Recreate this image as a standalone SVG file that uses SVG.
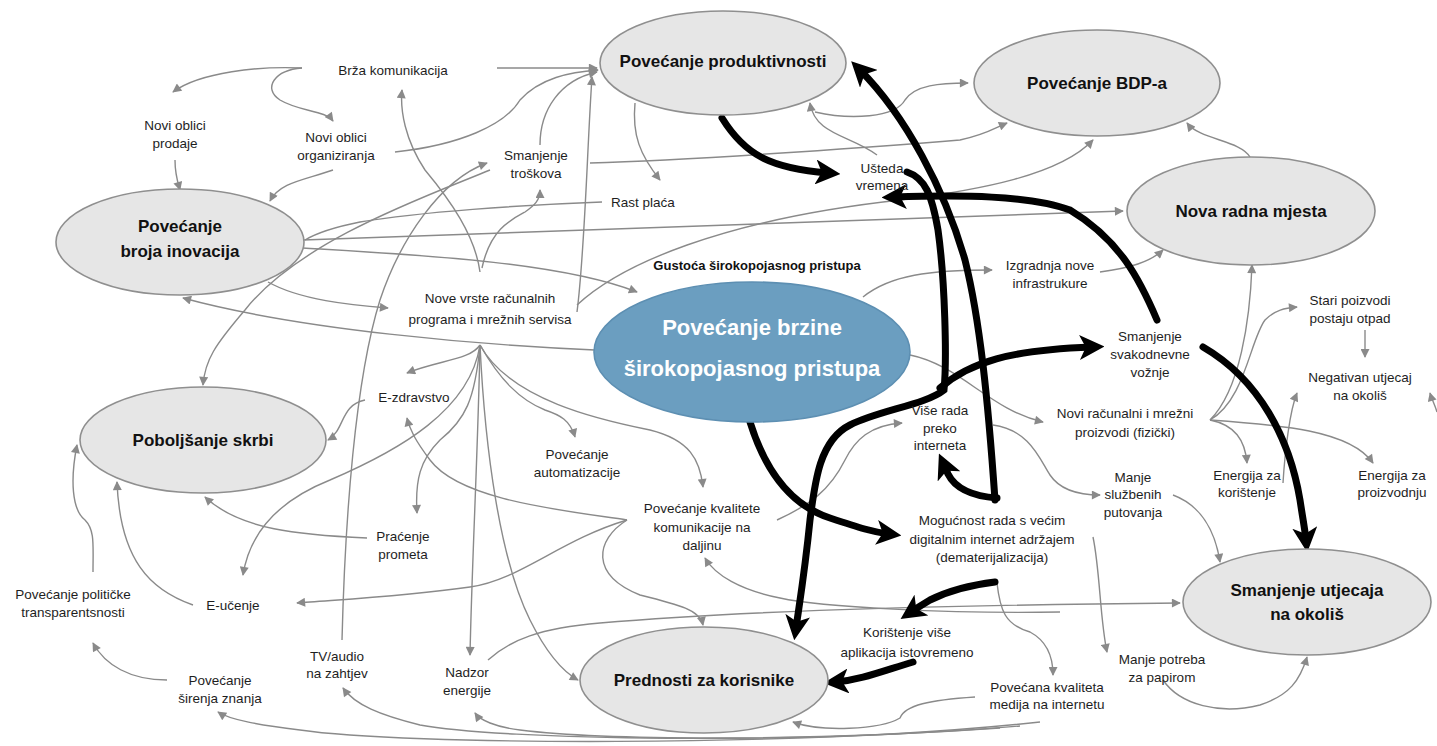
<svg xmlns="http://www.w3.org/2000/svg" width="1437" height="746" viewBox="0 0 1437 746">
<style>
.e{fill:#e6e6e6;stroke:#8f8f8f;stroke-width:1.6}
.eb{fill:#6b9ec0;stroke:#5d8fb2;stroke-width:1.6}
.t{font-family:"Liberation Sans",Arial,sans-serif;font-size:13.5px;fill:#1e1e1e;text-anchor:middle}
.tb{font-family:"Liberation Sans",Arial,sans-serif;font-size:17px;font-weight:bold;fill:#111;text-anchor:middle}
.tg{font-family:"Liberation Sans",Arial,sans-serif;font-size:13px;font-weight:bold;fill:#111;text-anchor:middle}
.tw{font-family:"Liberation Sans",Arial,sans-serif;font-size:22px;font-weight:bold;fill:#fff;text-anchor:middle}
.g{fill:none;stroke:#8a8a8a;stroke-width:1.4;marker-end:url(#ga)}
.gn{fill:none;stroke:#8a8a8a;stroke-width:1.4}
.k{fill:none;stroke:#000;stroke-width:7;stroke-linecap:round;marker-end:url(#ka)}
</style>
<defs>
<marker id="ga" viewBox="0 0 10 10" refX="9" refY="5" markerWidth="11" markerHeight="9" markerUnits="userSpaceOnUse" orient="auto"><path d="M0,0 L10,5 L0,10 z" fill="#8a8a8a"/></marker>
<marker id="ka" viewBox="0 0 10 10" refX="5" refY="5" markerWidth="25" markerHeight="25" markerUnits="userSpaceOnUse" orient="auto"><path d="M0,0 L10,5 L0,10 L2.5,5 z" fill="#000"/></marker>
</defs>
<rect width="1437" height="746" fill="#fff"/>

<g id="connectors">
<path class="g" d="M302,68 C260,66 200,72 173,92"/>
<path class="g" d="M302,68 C275,70 262,88 280,100 C300,112 325,110 333,121"/>
<path class="g" d="M175,160 C175,175 178,183 180,190"/>
<path class="g" d="M333,170 C305,180 280,182 270,201"/>
<path class="g" d="M395,152 C460,145 505,125 520,100 C540,78 570,72 598,70"/>
<path class="g" d="M497,68 L597,68"/>
<path class="g" d="M480,272 C475,235 450,200 425,170 C405,140 400,110 402,90"/>
<path class="g" d="M482,268 C490,230 510,220 525,212 C535,205 540,200 540,190"/>
<path class="g" d="M540,145 C540,110 560,80 597,72"/>
<path class="g" d="M590,163 C700,160 900,145 960,140 C985,135 995,128 1007,123"/>
<path class="gn" d="M602,202 C520,205 420,212 360,222 C330,228 315,234 305,240"/>
<path class="g" d="M490,170 C430,195 300,240 245,310 C215,345 205,360 203,385"/>
<path class="g" d="M635,103 C632,135 640,155 660,180"/>
<path class="g" d="M877,155 C850,135 815,135 810,103"/>
<path class="g" d="M815,112 C850,120 895,118 905,100 C915,85 940,83 968,83"/>
<path class="g" d="M577,305 C620,265 720,220 900,200 C980,190 1060,175 1093,140"/>
<path class="g" d="M303,240 C500,232 800,222 1123,211"/>
<path class="g" d="M303,248 C420,255 560,262 637,292"/>
<path class="g" d="M1250,157 C1240,140 1200,140 1187,123"/>
<path class="g" d="M1100,272 C1130,268 1150,262 1163,250"/>
<path class="g" d="M863,297 C890,275 930,270 992,270"/>
<path class="g" d="M1210,420 C1240,390 1250,320 1252,265"/>
<path class="g" d="M1210,420 C1245,400 1250,340 1265,320 C1275,310 1285,308 1297,307"/>
<path class="g" d="M1365,330 L1365,357"/>
<path class="g" d="M1283,483 C1285,450 1290,410 1297,393"/>
<path class="g" d="M1437,412 C1435,405 1432,400 1430,393"/>
<path class="g" d="M1210,420 C1235,425 1245,440 1247,463"/>
<path class="g" d="M1210,420 C1280,425 1350,430 1373,463"/>
<path class="g" d="M910,355 C960,365 990,410 1043,422"/>
<path class="g" d="M993,425 C1030,430 1040,460 1050,475 C1060,490 1080,495 1100,495"/>
<path class="g" d="M1173,495 C1200,505 1215,530 1220,562"/>
<path class="g" d="M777,520 C810,505 830,490 845,460 C855,440 870,425 902,423"/>
<path class="g" d="M1093,537 C1100,570 1100,620 1107,652"/>
<path class="g" d="M1163,680 C1180,705 1220,715 1260,705 C1290,695 1300,680 1307,657"/>
<path class="g" d="M997,583 C1000,610 1005,625 1030,632 C1045,640 1053,655 1053,675"/>
<path class="g" d="M488,660 C510,640 540,628 600,623 C750,610 950,605 1180,603"/>
<path class="g" d="M1060,612 C950,614 820,607 780,598 C740,590 715,575 705,558"/>
<path class="g" d="M627,520 C595,540 590,575 640,595 C680,605 700,610 703,625"/>
<path class="g" d="M627,520 C560,540 520,580 470,587 C400,597 330,600 297,603"/>
<path class="g" d="M627,520 C560,510 460,500 430,460 C415,440 410,430 407,418"/>
<path class="g" d="M367,538 C300,535 240,530 205,497"/>
<path class="g" d="M480,345 C470,360 440,360 407,373"/>
<path class="g" d="M480,345 C500,380 520,400 545,410 C560,415 570,420 575,437"/>
<path class="g" d="M480,345 C510,400 600,420 650,430 C690,440 700,460 703,487"/>
<path class="g" d="M480,345 C475,400 465,420 440,440 C420,460 415,480 417,513"/>
<path class="g" d="M480,345 C478,450 472,560 470,655"/>
<path class="g" d="M480,345 C485,450 500,560 530,620 C545,650 560,670 578,680"/>
<path class="g" d="M480,345 C470,410 400,450 330,480 C280,500 250,530 243,575"/>
<path class="g" d="M595,350 C480,345 300,330 183,298"/>
<path class="g" d="M268,282 C300,300 350,305 388,308"/>
<path class="g" d="M365,400 C340,405 345,430 328,440"/>
<path class="g" d="M342,640 C345,520 355,380 380,300 C400,240 440,180 487,163"/>
<path class="g" d="M577,312 C585,250 587,150 592,77"/>
<path class="g" d="M1040,722 C800,748 400,745 300,730 C260,725 230,720 218,712"/>
<path class="g" d="M1020,726 C800,745 500,740 420,725 C380,715 355,705 343,688"/>
<path class="g" d="M1000,728 C800,742 600,740 520,730 C495,727 480,720 475,713"/>
<path class="g" d="M975,697 C930,700 905,705 900,718 C880,730 820,732 793,722"/>
<path class="g" d="M167,680 C130,680 105,665 93,643"/>
<path class="g" d="M93,572 C93,545 95,530 85,520 C72,510 70,480 77,445"/>
<path class="g" d="M193,605 C150,590 120,560 117,482"/>

<path class="k" d="M722,118 C745,155 770,168 828,173"/>
<path class="k" d="M995,500 C988,400 980,320 965,260 C945,190 905,115 860,70"/>
<path class="k" d="M907,172 C925,178 932,195 938,230 C945,280 947,360 944,390 C925,405 880,410 850,425 C820,440 815,480 810,520 C805,570 800,600 796,628"/>
<path class="k" d="M940,388 C970,362 1010,350 1092,347"/>
<path class="k" d="M1157,320 C1140,280 1120,240 1070,210 C1030,195 960,195 894,197"/>
<path class="k" d="M1203,347 C1260,380 1290,440 1300,500 C1303,520 1305,530 1306,540"/>
<path class="k" d="M750,422 C765,470 790,505 830,518 C860,528 873,532 889,534"/>
<path class="k" d="M995,582 C970,585 950,590 930,600 C920,606 914,610 911,612"/>
<path class="k" d="M913,662 C880,672 860,680 836,682"/>
<path class="k" d="M997,498 C970,496 955,488 948,474 L944,465"/>
</g>

<g id="n-prod"><ellipse class="e" cx="723" cy="63" rx="123" ry="52"/><text class="tb" x="723" y="67">Povećanje produktivnosti</text></g>
<g id="n-bdp"><ellipse class="e" cx="1097" cy="83" rx="123" ry="53"/><text class="tb" x="1097" y="89">Povećanje BDP-a</text></g>
<g id="n-nova"><ellipse class="e" cx="1251" cy="211" rx="124" ry="54"/><text class="tb" x="1251" y="217">Nova radna mjesta</text></g>
<g id="n-inov"><ellipse class="e" cx="180" cy="242" rx="124" ry="53"/><text class="tb" x="180" y="232">Povećanje</text><text class="tb" x="180" y="257">broja inovacija</text></g>
<g id="n-skrb"><ellipse class="e" cx="203" cy="440" rx="123" ry="53"/><text class="tb" x="203" y="446">Poboljšanje skrbi</text></g>
<g id="n-brzina"><ellipse class="eb" cx="752" cy="352" rx="158" ry="70"/><text class="tw" x="752" y="335">Povećanje brzine</text><text class="tw" x="752" y="376">širokopojasnog pristupa</text></g>
<g id="n-pred"><ellipse class="e" cx="704" cy="680" rx="124" ry="53"/><text class="tb" x="704" y="686">Prednosti za korisnike</text></g>
<g id="n-okolis"><ellipse class="e" cx="1307" cy="602" rx="124" ry="53"/><text class="tb" x="1307" y="596">Smanjenje utjecaja</text><text class="tb" x="1307" y="620">na okoliš</text></g>

<g id="n-brza"><text class="t" x="393" y="75">Brža komunikacija</text></g>
<g id="n-prodaje"><text class="t" x="175" y="130">Novi oblici</text><text class="t" x="175" y="148">prodaje</text></g>
<g id="n-org"><text class="t" x="336" y="142">Novi oblici</text><text class="t" x="336" y="160">organiziranja</text></g>
<g id="n-troskovi"><text class="t" x="536" y="160">Smanjenje</text><text class="t" x="536" y="178">troškova</text></g>
<g id="n-rast"><text class="t" x="643" y="207">Rast plaća</text></g>
<g id="n-usteda"><text class="t" x="882" y="173">Ušteda</text><text class="t" x="882" y="190">vremena</text></g>
<g id="n-gustoca"><text class="tg" x="757" y="270">Gustoća širokopojasnog pristupa</text></g>
<g id="n-izgradnja"><text class="t" x="1050" y="270">Izgradnja nove</text><text class="t" x="1050" y="288">infrastrukure</text></g>
<g id="n-nove"><text class="t" x="490" y="303">Nove vrste računalnih</text><text class="t" x="490" y="324">programa i mrežnih servisa</text></g>
<g id="n-voznja"><text class="t" x="1150" y="341">Smanjenje</text><text class="t" x="1150" y="359">svakodnevne</text><text class="t" x="1150" y="377">vožnje</text></g>
<g id="n-stari"><text class="t" x="1350" y="305">Stari poizvodi</text><text class="t" x="1350" y="323">postaju otpad</text></g>
<g id="n-negativan"><text class="t" x="1360" y="382">Negativan utjecaj</text><text class="t" x="1360" y="400">na okoliš</text></g>
<g id="n-proizvodi"><text class="t" x="1125" y="418">Novi računalni i mrežni</text><text class="t" x="1125" y="437">proizvodi (fizički)</text></g>
<g id="n-vise"><text class="t" x="940" y="415">Više rada</text><text class="t" x="940" y="433">preko</text><text class="t" x="940" y="450">interneta</text></g>
<g id="n-ezdr"><text class="t" x="414" y="402">E-zdravstvo</text></g>
<g id="n-autom"><text class="t" x="577" y="459">Povećanje</text><text class="t" x="577" y="477">automatizacije</text></g>
<g id="n-enkor"><text class="t" x="1247" y="480">Energija za</text><text class="t" x="1247" y="497">korištenje</text></g>
<g id="n-enpro"><text class="t" x="1392" y="480">Energija za</text><text class="t" x="1392" y="497">proizvodnju</text></g>
<g id="n-sluzbena"><text class="t" x="1133" y="482">Manje</text><text class="t" x="1133" y="499">službenih</text><text class="t" x="1133" y="517">putovanja</text></g>
<g id="n-kvaliteta"><text class="t" x="702" y="513">Povećanje kvalitete</text><text class="t" x="702" y="532">komunikacije na</text><text class="t" x="702" y="550">daljinu</text></g>
<g id="n-promet"><text class="t" x="403" y="541">Praćenje</text><text class="t" x="403" y="559">prometa</text></g>
<g id="n-moguc"><text class="t" x="992" y="525">Mogućnost rada s većim</text><text class="t" x="992" y="544">digitalnim internet adržajem</text><text class="t" x="992" y="562">(dematerijalizacija)</text></g>
<g id="n-polit"><text class="t" x="73" y="599">Povećanje političke</text><text class="t" x="73" y="617">transparentsnosti</text></g>
<g id="n-eucenje"><text class="t" x="233" y="610">E-učenje</text></g>
<g id="n-tv"><text class="t" x="337" y="661">TV/audio</text><text class="t" x="337" y="678">na zahtjev</text></g>
<g id="n-nadzor"><text class="t" x="467" y="677">Nadzor</text><text class="t" x="467" y="695">energije</text></g>
<g id="n-sirenje"><text class="t" x="220" y="685">Povećanje</text><text class="t" x="220" y="703">širenja znanja</text></g>
<g id="n-aplik"><text class="t" x="907" y="637">Korištenje više</text><text class="t" x="907" y="657">aplikacija istovremeno</text></g>
<g id="n-papir"><text class="t" x="1162" y="664">Manje potreba</text><text class="t" x="1162" y="682">za papirom</text></g>
<g id="n-mediji"><text class="t" x="1047" y="692">Povećana kvaliteta</text><text class="t" x="1047" y="709">medija na internetu</text></g>
</svg>
